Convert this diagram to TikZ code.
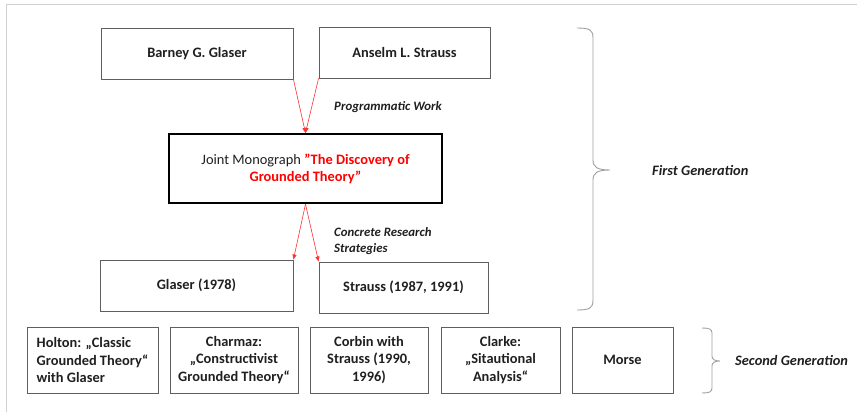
\documentclass[tikz,border=0pt]{standalone}
\usepackage{fontspec}
\setmainfont{Carlito}
\usetikzlibrary{arrows.meta}
\definecolor{bordergray}{HTML}{5F5F5F}
\definecolor{txt}{HTML}{1F1F1F}
\definecolor{framegray}{HTML}{D0D0D0}
\definecolor{bracegray}{HTML}{A0A0A0}
\definecolor{arrred}{HTML}{FF3030}
\begin{document}
\begin{tikzpicture}[x=1pt,y=-1pt,
  box/.style={draw=bordergray, line width=0.9pt, text=txt, align=center, inner sep=3pt, font=\fontsize{14.4}{17.5}\selectfont\bfseries},
  mainbox/.style={draw=black, line width=2.2pt, text=txt, align=center, font=\fontsize{14.4}{17}\selectfont},
  conn/.style={draw=arrred, line width=0.6pt, -{Triangle[length=5pt,width=4pt]}},
  lbl/.style={anchor=west, align=left, inner sep=0pt, text=txt, font=\fontsize{12.8}{15.5}\selectfont\bfseries\itshape},
  gen/.style={anchor=west, inner sep=0pt, text=txt, font=\fontsize{14.4}{17}\selectfont\bfseries\itshape},
  brace/.style={draw=bracegray, line width=0.9pt},
  frame/.style={draw=framegray, line width=1pt}
]
\useasboundingbox (0,0) rectangle (857,412);
\draw[frame] (6,412) -- (6,5) -- (857,5);

\node[box, minimum width=192pt, minimum height=51pt] (barney) at (197,53.5) {Barney G. Glaser};
\node[box, minimum width=171pt, minimum height=51pt] (anselm) at (404.5,52.5) {Anselm L. Strauss};
\node[mainbox, minimum width=273pt, minimum height=69pt] (mono) at (305.5,168.5) {Joint Monograph \textcolor{red}{\bfseries "The Discovery of}\\ \textcolor{red}{\bfseries Grounded Theory”}};
\node[box, minimum width=193pt, minimum height=51pt] (glaser) at (196.5,285.5) {Glaser (1978)};
\node[box, minimum width=169pt, minimum height=51pt] (strauss) at (403.5,287.5) {Strauss (1987, 1991)};

\node[box, align=left, minimum width=131pt, minimum height=66pt] (holton) at (92.5,360) {Holton: „Classic\\Grounded Theory“\\with Glaser};
\node[box, minimum width=128pt, minimum height=66pt] (charmaz) at (234,360) {Charmaz:\\„Constructivist\\Grounded Theory“};
\node[box, minimum width=118pt, minimum height=66pt] (corbin) at (369,360) {Corbin with\\Strauss (1990,\\1996)};
\node[box, minimum width=119pt, minimum height=66pt] (clarke) at (500.5,360) {Clarke:\\„Sitautional\\Analysis“};
\node[box, minimum width=101pt, minimum height=66pt] (morse) at (622.5,360) {Morse};

\node[lbl] (prog) at (334,107) {Programmatic Work};
\node[lbl] (conc) at (334,241) {Concrete Research\\Strategies};
\node[gen] (first) at (652,170) {First Generation};
\node[gen] (second) at (735,360) {Second Generation};

\draw[conn] (barney.south east) -- (mono.north);
\draw[conn] (anselm.south west) -- (mono.north);
\draw[conn] (mono.south) -- (glaser.north east);
\draw[conn] (mono.south) -- (strauss.north west);

\draw[brace] (577,28) .. controls (590,28) and (593,30) .. (593,38) -- (593,160) .. controls (593,167) and (597,170) .. (610,170) .. controls (597,170) and (593,173) .. (593,180) -- (593,300) .. controls (593,308) and (590,310) .. (577,310);
\draw[brace] (702,328) .. controls (709,328) and (712,329) .. (712,333) -- (712,356) .. controls (712,359) and (714,361) .. (720,361) .. controls (714,361) and (712,363) .. (712,366) -- (712,388) .. controls (712,392) and (709,393) .. (702,393);
\end{tikzpicture}
\end{document}
